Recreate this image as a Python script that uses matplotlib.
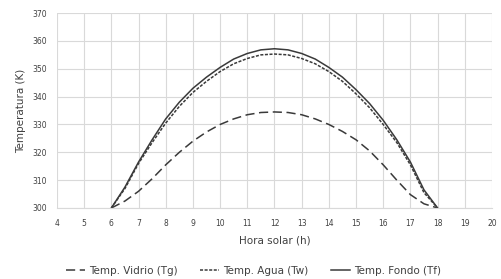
import matplotlib
matplotlib.use('Agg')
import matplotlib.pyplot as plt

# ============================================================
# Data
# ============================================================
hours = [6.0, 6.5, 7.0, 7.5, 8.0, 8.5, 9.0, 9.5, 10.0, 10.5, 11.0, 11.5, 12.0,
         12.5, 13.0, 13.5, 14.0, 14.5, 15.0, 15.5, 16.0, 16.5, 17.0, 17.5, 18.0]

t_vidrio = [300, 302.5, 306, 310.5, 315.5, 320, 324, 327.3, 330, 332, 333.5, 334.3, 334.5,
            334.3, 333.5, 332, 330, 327.5, 324.5, 320.5, 315.5, 310, 304.8, 301.5, 300]

t_agua = [300, 307, 316, 323.5, 330.5, 336.5, 341.5, 345.5, 349, 351.8, 353.7, 355, 355.3,
          355, 353.7, 351.8, 349, 345.5, 341, 336, 330, 323.5, 315.5, 305.5, 300]

t_fondo = [300, 307.5, 316.5, 324.5, 332, 338, 343, 347, 350.5, 353.5, 355.5, 356.8, 357.2,
           356.8, 355.5, 353.5, 350.5, 347, 342.5, 337.5, 331.5, 324.5, 316.5, 306.5, 300]

x_ticks = list(range(4, 21))
y_ticks = list(range(300, 371, 10))

labels = ['Temp. Vidrio (Tg)', 'Temp. Agua (Tw)', 'Temp. Fondo (Tf)']

# ============================================================
# Plot
# ============================================================
fig = plt.figure(figsize=(5.02, 2.79), dpi=100)
ax = fig.add_axes([0.1135, 0.2545, 0.8665, 0.6985])

line_color = '#3a3a3a'
ax.plot(hours, t_vidrio, color=line_color, linewidth=1.1, dashes=(6, 3), label=labels[0])
ax.plot(hours, t_agua, color=line_color, linewidth=1.1, dashes=(2, 1), label=labels[1])
ax.plot(hours, t_fondo, color=line_color, linewidth=1.1, label=labels[2])

ax.set_xlim(4, 20)
ax.set_ylim(300, 370)
ax.set_xticks(x_ticks)
ax.set_yticks(y_ticks)
ax.tick_params(axis='x', length=0, labelsize=5.5, colors='#404040', pad=8)
ax.tick_params(axis='y', length=0, labelsize=5.5, colors='#404040', pad=7)
ax.grid(True, color='#d9d9d9', linewidth=0.8)
ax.set_axisbelow(True)
for s in ['top', 'right', 'left']:
    ax.spines[s].set_visible(False)
ax.spines['bottom'].set_color('#d9d9d9')

ax.set_xlabel('Hora solar (h)', fontsize=7.5, color='#404040', labelpad=5)
ax.set_ylabel('Temperatura (K)', fontsize=7.5, color='#404040', labelpad=5)

fig.legend(loc='center', bbox_to_anchor=(0.505, 0.03), ncol=3, frameon=False,
           fontsize=7.5, handlelength=1.8, handletextpad=0.4, columnspacing=2.2,
           labelcolor='#404040')

fig.savefig('out.png', dpi=100)
